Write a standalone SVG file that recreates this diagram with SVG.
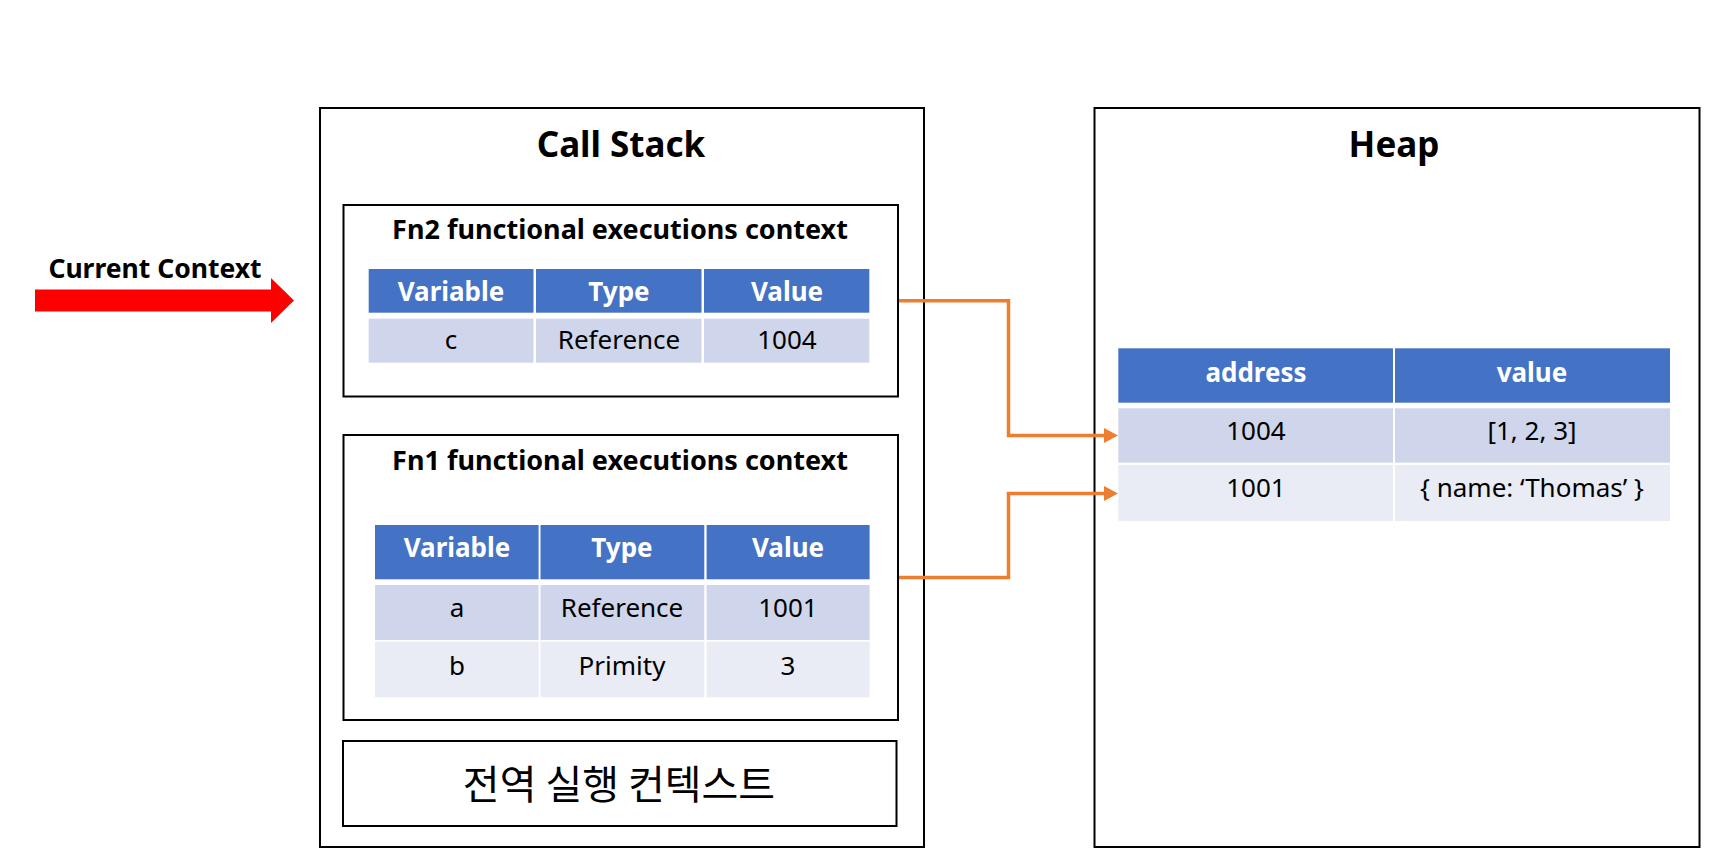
<svg xmlns="http://www.w3.org/2000/svg" width="1720" height="864" viewBox="0 0 1720 864">
<style>
text{font-family:"Noto Sans","Noto Sans CJK KR",sans-serif;text-anchor:middle;}
.box{fill:#fff;stroke:#000;stroke-width:2;}
.title{font-size:35px;font-weight:bold;fill:#000;}
.sub{font-size:27px;font-weight:bold;fill:#000;}
.hd{fill:#4472C4;}
.r1{fill:#CFD5EA;}
.r2{fill:#E9EBF5;}
.ht{font-size:26px;font-weight:bold;fill:#fff;}
.ct{font-size:26px;fill:#000;}
.conn{fill:none;stroke:#ED7D31;stroke-width:3.5;}
.ah{fill:#ED7D31;}
</style>
<rect width="1720" height="864" fill="#fff"/>

<g id="current-context">
<text x="155" y="278" style="font-size:26.5px;font-weight:bold;">Current Context</text>
<path d="M35,289.5 L271,289.5 L271,278 L294,300.5 L271,323 L271,311.5 L35,311.5 Z" fill="#FF0000"/>
</g>

<g id="call-stack">
<rect class="box" x="320" y="108" width="604" height="739"/>
<text class="title" x="621" y="157">Call Stack</text>
</g>

<g id="fn2-context">
<rect class="box" x="343.5" y="205" width="554.5" height="191.5"/>
<text class="sub" x="620" y="239">Fn2 functional executions context</text>
<rect class="hd" x="368.7" y="269" width="164.8" height="43.7"/>
<rect class="hd" x="536" y="269" width="165.5" height="43.7"/>
<rect class="hd" x="704" y="269" width="165.3" height="43.7"/>
<rect class="r1" x="368.7" y="318.7" width="164.8" height="44"/>
<rect class="r1" x="536" y="318.7" width="165.5" height="44"/>
<rect class="r1" x="704" y="318.7" width="165.3" height="44"/>
<text class="ht" x="451" y="301">Variable</text>
<text class="ht" x="619" y="301">Type</text>
<text class="ht" x="787" y="301">Value</text>
<text class="ct" x="451" y="349">c</text>
<text class="ct" x="619" y="349">Reference</text>
<text class="ct" x="787" y="349">1004</text>
</g>

<g id="fn1-context">
<rect class="box" x="343.5" y="435" width="554.5" height="285"/>
<text class="sub" x="620" y="470">Fn1 functional executions context</text>
<rect class="hd" x="375" y="525" width="163.6" height="54.3"/>
<rect class="hd" x="540.5" y="525" width="163.8" height="54.3"/>
<rect class="hd" x="706.6" y="525" width="163" height="54.3"/>
<rect class="r1" x="375" y="585" width="163.6" height="55"/>
<rect class="r1" x="540.5" y="585" width="163.8" height="55"/>
<rect class="r1" x="706.6" y="585" width="163" height="55"/>
<rect class="r2" x="375" y="641.7" width="163.6" height="55.6"/>
<rect class="r2" x="540.5" y="641.7" width="163.8" height="55.6"/>
<rect class="r2" x="706.6" y="641.7" width="163" height="55.6"/>
<text class="ht" x="457" y="557">Variable</text>
<text class="ht" x="622" y="557">Type</text>
<text class="ht" x="788" y="557">Value</text>
<text class="ct" x="457" y="617">a</text>
<text class="ct" x="622" y="617">Reference</text>
<text class="ct" x="788" y="617">1001</text>
<text class="ct" x="457" y="675">b</text>
<text class="ct" x="622" y="675">Primity</text>
<text class="ct" x="788" y="675">3</text>
</g>

<g id="global-context">
<rect class="box" x="343" y="741" width="553.5" height="85"/>
<text x="619" y="799" style="font-family:'Noto Sans CJK KR','Noto Sans',sans-serif;font-size:40px;fill:#000;">전역 실행 컨텍스트</text>
</g>

<g id="heap">
<rect class="box" x="1094.5" y="108" width="605" height="739"/>
<text class="title" x="1394" y="157">Heap</text>
<rect class="hd" x="1118.3" y="348.3" width="274.7" height="54.4"/>
<rect class="hd" x="1395" y="348.3" width="275" height="54.4"/>
<rect class="r1" x="1118.3" y="408.3" width="274.7" height="54.4"/>
<rect class="r1" x="1395" y="408.3" width="275" height="54.4"/>
<rect class="r2" x="1118.3" y="465" width="274.7" height="56"/>
<rect class="r2" x="1395" y="465" width="275" height="56"/>
<text class="ht" x="1256" y="382">address</text>
<text class="ht" x="1532" y="382">value</text>
<text class="ct" x="1256" y="440">1004</text>
<text class="ct" x="1532" y="440">[1, 2, 3]</text>
<text class="ct" x="1256" y="497">1001</text>
<text class="ct" x="1532" y="497">{ name: ‘Thomas’ }</text>
</g>

<g id="connectors">
<polyline class="conn" points="899,300.7 1008.5,300.7 1008.5,435.5 1106,435.5"/>
<path class="ah" d="M1104,428 L1118,435.5 L1104,443 Z"/>
<polyline class="conn" points="899,577.5 1008.5,577.5 1008.5,493.5 1106,493.5"/>
<path class="ah" d="M1104,486 L1118,493.5 L1104,501 Z"/>
</g>
</svg>
